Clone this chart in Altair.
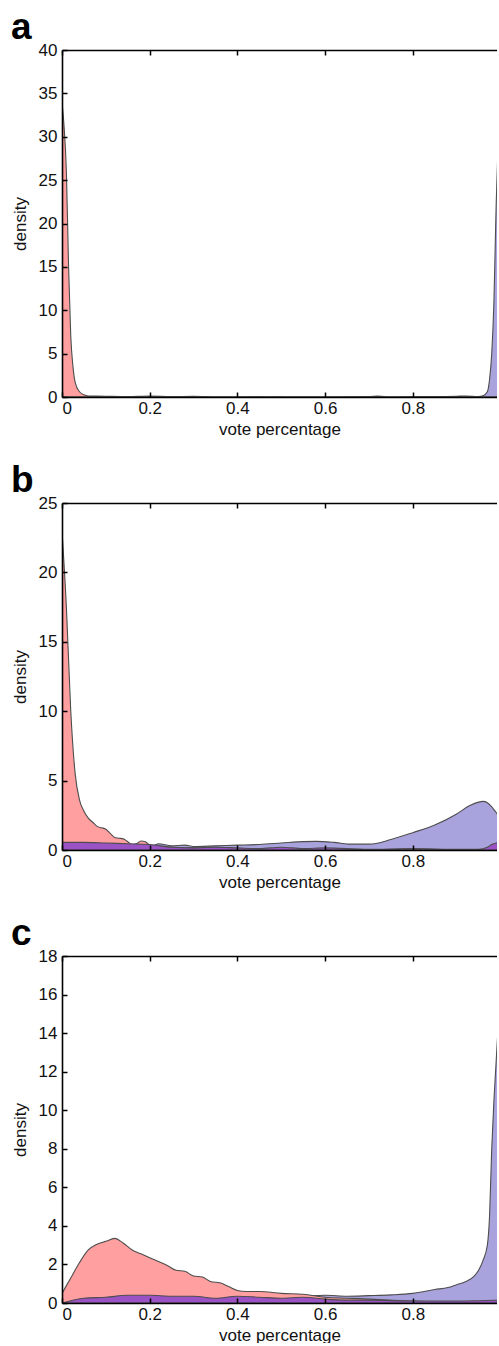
import altair as alt
import pandas as pd

FONT = "Liberation Sans"
XMAX = 0.992
XTICKS = [0, 0.2, 0.4, 0.6, 0.8]

RED = "#ff9f9f"
BLUE = "#a9a3dd"
PURPLE = "#9a52c4"
EDGE = "#4d4d4d"

# ---------------- panel a ----------------
a_red_x = [0, 0.005, 0.01, 0.015, 0.02, 0.025, 0.03, 0.04, 0.05, 0.06, 0.08, 0.1, 0.15, 0.2, 0.25, 0.3, 0.35, 0.4, 0.45, 0.5]
a_red_y = [34, 31, 26, 15, 7, 3.5, 1.7, 0.6, 0.25, 0.12, 0.1, 0.08, 0.04, 0.1, 0.05, 0.08, 0.03, 0.02, 0.01, 0]
a_blue_x = [0.4, 0.5, 0.6, 0.7, 0.72, 0.75, 0.8, 0.85, 0.9, 0.92, 0.95, 0.96, 0.97, 0.975, 0.98, 0.985, 0.99, 0.995, 1.0]
a_blue_y = [0, 0.02, 0.03, 0.05, 0.1, 0.03, 0.05, 0.04, 0.08, 0.12, 0.05, 0.15, 0.6, 2, 5, 11, 22, 30, 36]
a_purple_x = [0, 0.5, 1.0]
a_purple_y = [0, 0, 0]

# ---------------- panel b ----------------
b_red_x = [0, 0.01, 0.02, 0.03, 0.04, 0.05, 0.06, 0.07, 0.08, 0.09, 0.1, 0.11, 0.12, 0.13, 0.14, 0.15, 0.16, 0.17, 0.18, 0.19, 0.2, 0.22, 0.25, 0.3, 0.35, 0.4, 0.45, 0.5]
b_red_y = [23, 17.5, 10, 5.5, 3.6, 2.8, 2.3, 2.0, 1.7, 1.6, 1.5, 1.2, 0.9, 0.85, 0.8, 0.6, 0.4, 0.45, 0.65, 0.6, 0.35, 0.25, 0.2, 0.15, 0.2, 0.1, 0.05, 0]
b_blue_x = [0, 0.1, 0.2, 0.22, 0.25, 0.28, 0.3, 0.35, 0.4, 0.45, 0.5, 0.55, 0.58, 0.62, 0.66, 0.7, 0.75, 0.8, 0.85, 0.9, 0.93, 0.95, 0.96, 0.97, 0.98, 0.99, 1.0]
b_blue_y = [0.1, 0.1, 0.2, 0.45, 0.3, 0.35, 0.25, 0.3, 0.35, 0.4, 0.5, 0.6, 0.62, 0.55, 0.42, 0.42, 0.75, 1.25, 1.8, 2.6, 3.2, 3.45, 3.5, 3.4, 3.1, 2.7, 2.3]
b_purple_x = [0, 0.05, 0.1, 0.15, 0.2, 0.25, 0.3, 0.35, 0.4, 0.45, 0.5, 0.55, 0.6, 0.7, 0.8, 0.9, 0.95, 0.97, 0.98, 0.99, 1.0]
b_purple_y = [0.55, 0.55, 0.5, 0.45, 0.4, 0.2, 0.15, 0.2, 0.15, 0.1, 0.2, 0.1, 0.15, 0.05, 0.1, 0.05, 0.05, 0.2, 0.4, 0.5, 0.6]

# ---------------- panel c ----------------
c_red_x = [0, 0.02, 0.04, 0.06, 0.08, 0.1, 0.12, 0.14, 0.16, 0.18, 0.2, 0.22, 0.24, 0.26, 0.28, 0.3, 0.32, 0.34, 0.36, 0.38, 0.4, 0.42, 0.45, 0.5, 0.55, 0.6, 0.65, 0.7, 0.8, 0.9, 1.0]
c_red_y = [0.5, 1.3, 2.1, 2.75, 3.05, 3.2, 3.35, 3.1, 2.75, 2.55, 2.35, 2.15, 1.95, 1.7, 1.65, 1.4, 1.35, 1.1, 1.05, 0.85, 0.65, 0.6, 0.6, 0.5, 0.45, 0.3, 0.25, 0.2, 0.1, 0.05, 0.05]
c_blue_x = [0, 0.1, 0.2, 0.3, 0.4, 0.45, 0.5, 0.55, 0.6, 0.65, 0.7, 0.75, 0.8, 0.85, 0.88, 0.9, 0.92, 0.94, 0.95, 0.96, 0.97, 0.975, 0.98, 0.985, 0.99, 0.995, 1.0]
c_blue_y = [0.1, 0.3, 0.35, 0.35, 0.3, 0.35, 0.3, 0.35, 0.4, 0.35, 0.38, 0.42, 0.5, 0.7, 0.8, 0.95, 1.1, 1.4, 1.7, 2.2, 3.0, 4.5, 8, 10.5, 12.5, 14.5, 16]
c_purple_x = [0, 0.05, 0.1, 0.15, 0.2, 0.25, 0.3, 0.35, 0.4, 0.45, 0.5, 0.55, 0.6, 0.65, 0.7, 0.8, 0.9, 0.95, 1.0]
c_purple_y = [0, 0.25, 0.3, 0.4, 0.4, 0.35, 0.35, 0.25, 0.35, 0.3, 0.25, 0.3, 0.2, 0.15, 0.15, 0.1, 0.1, 0.12, 0.15]


def frame(xs, ys):
    return pd.DataFrame({"x": xs, "y": ys})


def panel(letter, ymax, ystep, red, blue, purple):
    xs = alt.Scale(domain=[0, XMAX], nice=False, zero=False)
    ys = alt.Scale(domain=[0, ymax], nice=False)
    yticks = list(range(0, ymax + 1, ystep))

    x_main = alt.Axis(orient="bottom", values=XTICKS, format="~g", offset=-5, tickSize=5,
                      domain=False, title="vote percentage", labelPadding=3, titlePadding=5,
                      zindex=2)
    x_bot_dom = alt.Axis(orient="bottom", domain=True, ticks=False, labels=False, title=None,
                         zindex=3)
    x_top_dom = alt.Axis(orient="top", domain=True, ticks=False, labels=False, title=None,
                         zindex=3)
    x_top_tk = alt.Axis(orient="top", values=XTICKS, offset=-5, tickSize=5, domain=False,
                        labels=False, title=None, zindex=2)
    y_main = alt.Axis(orient="left", values=yticks, offset=-5, tickSize=5, domain=False,
                      title="density", labelPadding=5, titlePadding=9, zindex=2)
    y_dom = alt.Axis(orient="left", domain=True, ticks=False, labels=False, title=None,
                     zindex=3)

    def area(df, color, xaxis, yaxis):
        return alt.Chart(df).mark_area(
            fill=color, stroke=EDGE, strokeWidth=1.1, fillOpacity=1, clip=True,
            interpolate="monotone"
        ).encode(
            x=alt.X("x:Q", scale=xs, axis=xaxis),
            y=alt.Y("y:Q", scale=ys, axis=yaxis),
        )

    l_blue = area(frame(*blue), BLUE, x_main, y_main)
    l_red = area(frame(*red), RED, x_bot_dom, y_dom)
    l_purple = area(frame(*purple), PURPLE, x_top_dom, None)
    l_ticks = alt.Chart(frame(*purple)).mark_point(opacity=0, size=1, clip=True).encode(
        x=alt.X("x:Q", scale=xs, axis=x_top_tk),
        y=alt.Y("y:Q", scale=ys, axis=None),
    )
    return alt.layer(l_blue, l_red, l_purple, l_ticks).resolve_axis(
        x="independent", y="independent"
    ).properties(
        width=435, height=347,
        title=alt.TitleParams(letter, anchor="start", fontSize=37, fontWeight="bold",
                              font=FONT, color="black", offset=-6),
    )


pa = panel("a", 40, 5, (a_red_x, a_red_y), (a_blue_x, a_blue_y), (a_purple_x, a_purple_y))
pb = panel("b", 25, 5, (b_red_x, b_red_y), (b_blue_x, b_blue_y), (b_purple_x, b_purple_y))
pc = panel("c", 18, 2, (c_red_x, c_red_y), (c_blue_x, c_blue_y), (c_purple_x, c_purple_y))

chart = alt.vconcat(pa, pb, pc, spacing=25).properties(
    padding={"left": 11, "top": 9, "right": 0, "bottom": 0},
    background="white",
).configure_view(stroke=None).configure_axis(
    labelFont=FONT, titleFont=FONT, labelFontSize=17, titleFontSize=17,
    titleFontWeight="normal", labelColor="#111", titleColor="#111",
    domainColor="#000", domainWidth=1.6, tickColor="#000", tickWidth=1.5, grid=False,
)

chart.save("out.html", embed_options={"renderer": "svg", "actions": False})
